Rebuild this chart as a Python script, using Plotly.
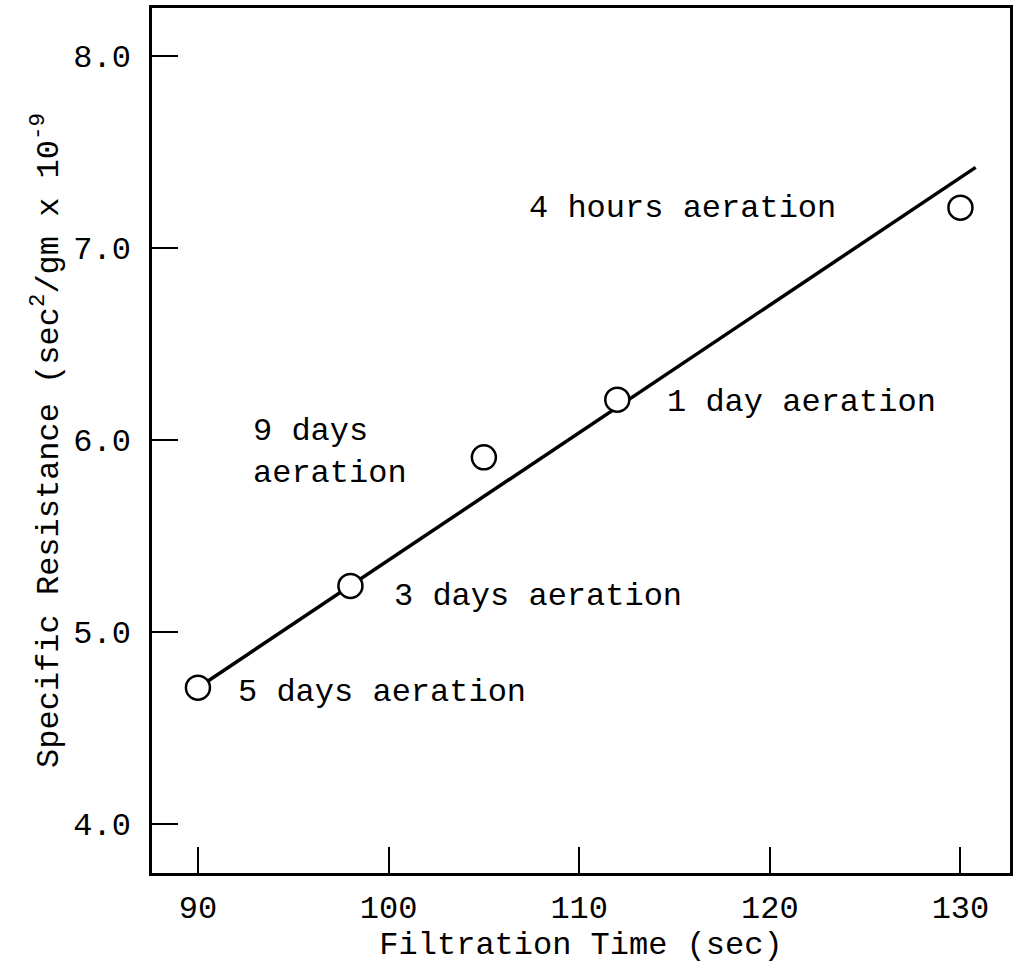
import plotly.graph_objects as go

# Measured filtration time vs specific resistance for sludge after aeration
filtration_time = [90, 98, 105, 112, 130]
specific_resistance = [4.71, 5.24, 5.91, 6.21, 7.21]

# Fitted straight line through the observations
fit_x = [90, 130.8]
fit_y = [4.71, 7.42]

# Point labels
label_text = ["4 hours aeration", "1 day aeration", "9 days<br>aeration",
              "3 days aeration", "5 days aeration"]
label_x = [107.27, 114.51, 92.78, 100.18, 91.99]
label_y = [7.208, 6.193, 5.935, 5.1875, 4.6875]

x_ticks = [90, 100, 110, 120, 130]
y_ticks = [4.0, 5.0, 6.0, 7.0, 8.0]
y_tick_text = ["4.0", "5.0", "6.0", "7.0", "8.0"]

FONT = "Liberation Mono"
FS = 32

fig = go.Figure()
fig.add_trace(go.Scatter(
    x=fit_x, y=fit_y, mode="lines",
    line=dict(color="black", width=3.5), showlegend=False, hoverinfo="skip"))
fig.add_trace(go.Scatter(
    x=filtration_time, y=specific_resistance, mode="markers",
    marker=dict(symbol="circle", size=24, color="white",
                line=dict(color="black", width=2.5)),
    showlegend=False))

for t, x, y in zip(label_text, label_x, label_y):
    fig.add_annotation(x=x, y=y, text=t, showarrow=False,
                       xanchor="left", yanchor="middle", align="left",
                       font=dict(family=FONT, size=FS, color="black"))

fig.update_xaxes(
    range=[87.59, 132.6], tickvals=x_ticks, ticktext=[str(v) for v in x_ticks],
    ticks="inside", ticklen=26, tickwidth=2, tickcolor="black",
    showline=True, linecolor="black", linewidth=2.5, mirror=True,
    showgrid=False, zeroline=False, ticklabelstandoff=4, automargin=False,
    tickfont=dict(family=FONT, size=FS, color="black"),
    title=dict(text="Filtration Time (sec)", standoff=24,
               font=dict(family=FONT, size=FS, color="black")))
fig.update_yaxes(
    range=[3.745, 8.25], tickvals=y_ticks, ticktext=y_tick_text,
    ticks="inside", ticklen=26, tickwidth=2, tickcolor="black",
    showline=True, linecolor="black", linewidth=2.5, mirror=True,
    showgrid=False, zeroline=False, ticklabelstandoff=12, automargin=False,
    tickfont=dict(family=FONT, size=FS, color="black"),
    title=dict(text="Specific Resistance (sec<sup>2</sup>/gm x 10<sup>-9</sup>",
               standoff=6, font=dict(family=FONT, size=FS, color="black")))

fig.update_layout(
    width=1013, height=964,
    margin=dict(l=152, r=3, t=8, b=91),
    paper_bgcolor="white", plot_bgcolor="white",
    font=dict(family=FONT, size=FS, color="black"))

fig.write_html("out.html")
